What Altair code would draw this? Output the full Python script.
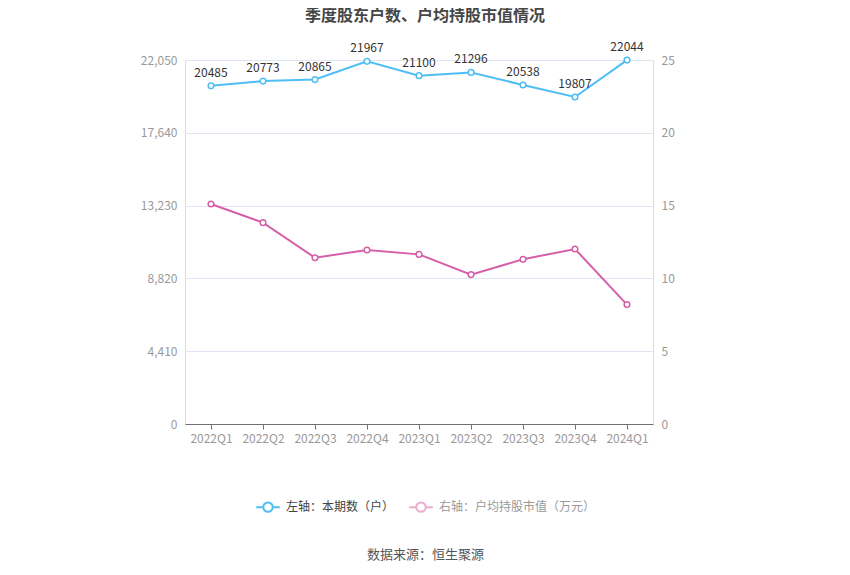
import altair as alt
import pandas as pd

quarters = ["2022Q1", "2022Q2", "2022Q3", "2022Q4", "2023Q1", "2023Q2", "2023Q3", "2023Q4", "2024Q1"]
holders = [20485, 20773, 20865, 21967, 21100, 21296, 20538, 19807, 22044]
avg_value = [15.11, 13.83, 11.42, 11.95, 11.65, 10.26, 11.31, 12.02, 8.20]
left_ticks = [0, 4410, 8820, 13230, 17640, 22050]
right_ticks = [0, 5, 10, 15, 20, 25]
s1 = "左轴：本期数（户）"
s2 = "右轴：户均持股市值（万元）"

df1 = pd.DataFrame({"q": quarters, "v": holders, "s": s1})
df2 = pd.DataFrame({"q": quarters, "v": avg_value, "s": s2})

xenc = alt.X("q:N", sort=quarters, scale=alt.Scale(paddingInner=0, paddingOuter=0.0),
             axis=alt.Axis(title="数据来源：恒生聚源", labelAngle=0, labelColor="#999",
                           labelFontSize=12, labelPadding=4, domainColor="#6E7079",
                           tickColor="#6E7079", tickSize=5, grid=False,
                           titleFontWeight="normal", titleColor="#555", titleFontSize=13,
                           titleX=240, titleY=130, titleBaseline="middle"))

color = alt.Color("s:N", scale=alt.Scale(domain=[s1, s2], range=["#4FBEF5", "#D660A8"]),
                  legend=alt.Legend(title=None, orient="none", direction="horizontal",
                                    legendX=70, legendY=434,
                                    symbolType="M-1,0L-0.4,0M0.4,0L1,0M-0.4,0A0.4,0.4 0 1,0 0.4,0A0.4,0.4 0 1,0 -0.4,0",
                                    symbolSize=560, symbolStrokeWidth=2, symbolFillColor="white",
                                    labelFontSize=12, columnPadding=10, labelOffset=5,
                                    labelColor=alt.ExprRef(expr="datum.label === '" + s1 + "' ? '#444' : '#999'"),
                                    symbolOpacity=alt.ExprRef(expr="datum.label === '" + s1 + "' ? 1 : 0.5")))

yl = alt.Y("v:Q", scale=alt.Scale(domain=[0, 22050], nice=False),
           axis=alt.Axis(title=None, values=left_ticks, format=",.0f", labelColor="#999",
                         labelFontSize=12, ticks=False, domain=False, labelPadding=8,
                         gridColor="#E0E6F1", gridWidth=1))
yr = alt.Y("v:Q", scale=alt.Scale(domain=[0, 25], nice=False),
           axis=alt.Axis(title=None, values=right_ticks, format="d", orient="right", labelColor="#999",
                         labelFontSize=12, ticks=False, domain=False, grid=False, labelPadding=8))

base1 = alt.Chart(df1).encode(x=xenc, y=yl)
line1 = base1.mark_line(strokeWidth=2).encode(color=color)
pts1 = base1.mark_point(filled=False, fill="white", fillOpacity=1, size=32, strokeWidth=1.5, opacity=1).encode(color=color)
lab1 = base1.mark_text(dy=-13, fontSize=12, color="#333").encode(text="v:Q")

base2 = alt.Chart(df2).encode(x=xenc, y=yr)
line2 = base2.mark_line(strokeWidth=2).encode(color=color)
pts2 = base2.mark_point(filled=False, fill="white", fillOpacity=1, size=32, strokeWidth=1.5, opacity=1).encode(color=color)

left = alt.layer(line1, pts1, lab1)
right = alt.layer(line2, pts2)

chart = alt.layer(left, right).resolve_scale(y="independent").properties(
    width=468, height=364,
    autosize=alt.AutoSizeParams(type="none"),
    padding={"left": 177, "top": 52, "right": 189, "bottom": 143},
    title=alt.TitleParams("季度股东户数、户均持股市值情况", fontSize=16, fontWeight="bold",
                          color="#464646", anchor="middle", dx=6, offset=17, frame="group"),
).configure_view(stroke=None).configure(font="Noto Sans CJK SC")

chart.save("out.html", embed_options={"renderer": "svg", "actions": False})
